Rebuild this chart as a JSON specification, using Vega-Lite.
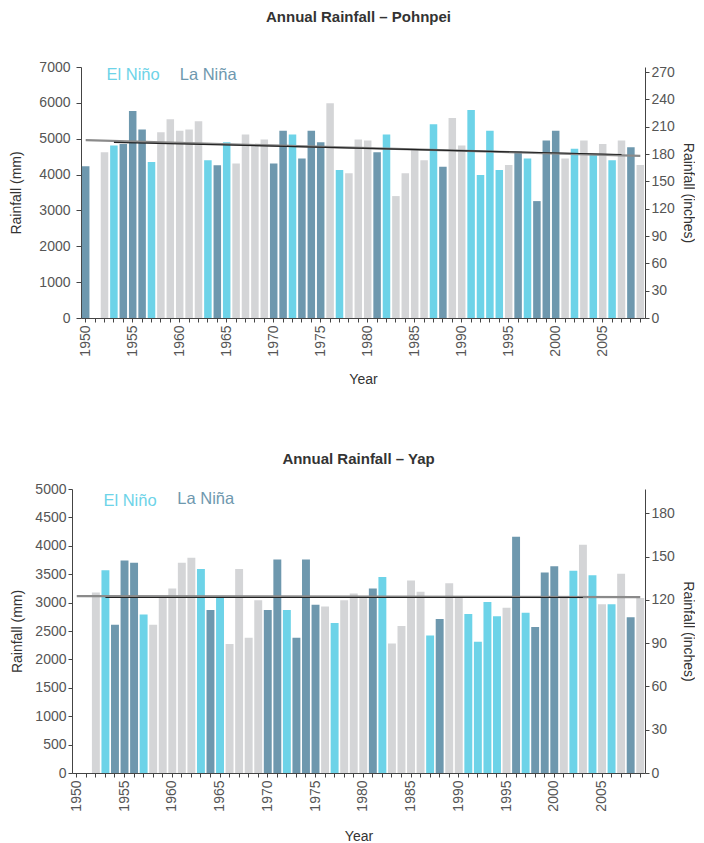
{
  "$schema": "https://vega.github.io/schema/vega-lite/v6.json",
  "padding": {"left": 9, "top": 10, "right": 0, "bottom": 0},
  "background": "white",
  "config": {
    "font": "Liberation Sans",
    "view": {"stroke": null},
    "axis": {
      "grid": false,
      "labelFont": "Liberation Sans",
      "titleFont": "Liberation Sans",
      "labelFontSize": 14,
      "titleFontSize": 14,
      "titleFontWeight": "normal",
      "labelColor": "#555555",
      "titleColor": "#333333",
      "domainColor": "#444444",
      "tickColor": "#444444"
    },
    "title": {"font": "Liberation Sans", "fontSize": 15, "fontWeight": "bold", "color": "#333333", "anchor": "middle"}
  },
  "datasets": {
    "pohnpei": [
      {"year": 1950, "rain": 4230, "phase": "La Niña"},
      {"year": 1952, "rain": 4620, "phase": "Neutral"},
      {"year": 1953, "rain": 4810, "phase": "El Niño"},
      {"year": 1954, "rain": 4850, "phase": "La Niña"},
      {"year": 1955, "rain": 5770, "phase": "La Niña"},
      {"year": 1956, "rain": 5260, "phase": "La Niña"},
      {"year": 1957, "rain": 4350, "phase": "El Niño"},
      {"year": 1958, "rain": 5180, "phase": "Neutral"},
      {"year": 1959, "rain": 5540, "phase": "Neutral"},
      {"year": 1960, "rain": 5220, "phase": "Neutral"},
      {"year": 1961, "rain": 5260, "phase": "Neutral"},
      {"year": 1962, "rain": 5490, "phase": "Neutral"},
      {"year": 1963, "rain": 4400, "phase": "El Niño"},
      {"year": 1964, "rain": 4260, "phase": "La Niña"},
      {"year": 1965, "rain": 4900, "phase": "El Niño"},
      {"year": 1966, "rain": 4310, "phase": "Neutral"},
      {"year": 1967, "rain": 5120, "phase": "Neutral"},
      {"year": 1968, "rain": 4810, "phase": "Neutral"},
      {"year": 1969, "rain": 4980, "phase": "Neutral"},
      {"year": 1970, "rain": 4310, "phase": "La Niña"},
      {"year": 1971, "rain": 5220, "phase": "La Niña"},
      {"year": 1972, "rain": 5120, "phase": "El Niño"},
      {"year": 1973, "rain": 4450, "phase": "La Niña"},
      {"year": 1974, "rain": 5220, "phase": "La Niña"},
      {"year": 1975, "rain": 4900, "phase": "La Niña"},
      {"year": 1976, "rain": 5990, "phase": "Neutral"},
      {"year": 1977, "rain": 4130, "phase": "El Niño"},
      {"year": 1978, "rain": 4040, "phase": "Neutral"},
      {"year": 1979, "rain": 4980, "phase": "Neutral"},
      {"year": 1980, "rain": 4950, "phase": "Neutral"},
      {"year": 1981, "rain": 4620, "phase": "La Niña"},
      {"year": 1982, "rain": 5120, "phase": "El Niño"},
      {"year": 1983, "rain": 3400, "phase": "Neutral"},
      {"year": 1984, "rain": 4040, "phase": "Neutral"},
      {"year": 1985, "rain": 4720, "phase": "Neutral"},
      {"year": 1986, "rain": 4400, "phase": "Neutral"},
      {"year": 1987, "rain": 5400, "phase": "El Niño"},
      {"year": 1988, "rain": 4220, "phase": "La Niña"},
      {"year": 1989, "rain": 5580, "phase": "Neutral"},
      {"year": 1990, "rain": 4810, "phase": "Neutral"},
      {"year": 1991, "rain": 5800, "phase": "El Niño"},
      {"year": 1992, "rain": 3990, "phase": "El Niño"},
      {"year": 1993, "rain": 5220, "phase": "El Niño"},
      {"year": 1994, "rain": 4130, "phase": "El Niño"},
      {"year": 1995, "rain": 4270, "phase": "Neutral"},
      {"year": 1996, "rain": 4640, "phase": "La Niña"},
      {"year": 1997, "rain": 4450, "phase": "El Niño"},
      {"year": 1998, "rain": 3260, "phase": "La Niña"},
      {"year": 1999, "rain": 4950, "phase": "La Niña"},
      {"year": 2000, "rain": 5220, "phase": "La Niña"},
      {"year": 2001, "rain": 4450, "phase": "Neutral"},
      {"year": 2002, "rain": 4720, "phase": "El Niño"},
      {"year": 2003, "rain": 4950, "phase": "Neutral"},
      {"year": 2004, "rain": 4570, "phase": "El Niño"},
      {"year": 2005, "rain": 4850, "phase": "Neutral"},
      {"year": 2006, "rain": 4400, "phase": "El Niño"},
      {"year": 2007, "rain": 4950, "phase": "Neutral"},
      {"year": 2008, "rain": 4760, "phase": "La Niña"},
      {"year": 2009, "rain": 4270, "phase": "Neutral"}
    ],
    "yap": [
      {"year": 1952, "rain": 3180, "phase": "Neutral"},
      {"year": 1953, "rain": 3570, "phase": "El Niño"},
      {"year": 1954, "rain": 2610, "phase": "La Niña"},
      {"year": 1955, "rain": 3740, "phase": "La Niña"},
      {"year": 1956, "rain": 3700, "phase": "La Niña"},
      {"year": 1957, "rain": 2790, "phase": "El Niño"},
      {"year": 1958, "rain": 2610, "phase": "Neutral"},
      {"year": 1959, "rain": 3080, "phase": "Neutral"},
      {"year": 1960, "rain": 3250, "phase": "Neutral"},
      {"year": 1961, "rain": 3700, "phase": "Neutral"},
      {"year": 1962, "rain": 3790, "phase": "Neutral"},
      {"year": 1963, "rain": 3590, "phase": "El Niño"},
      {"year": 1964, "rain": 2870, "phase": "La Niña"},
      {"year": 1965, "rain": 3090, "phase": "El Niño"},
      {"year": 1966, "rain": 2270, "phase": "Neutral"},
      {"year": 1967, "rain": 3590, "phase": "Neutral"},
      {"year": 1968, "rain": 2380, "phase": "Neutral"},
      {"year": 1969, "rain": 3040, "phase": "Neutral"},
      {"year": 1970, "rain": 2870, "phase": "La Niña"},
      {"year": 1971, "rain": 3760, "phase": "La Niña"},
      {"year": 1972, "rain": 2870, "phase": "El Niño"},
      {"year": 1973, "rain": 2380, "phase": "La Niña"},
      {"year": 1974, "rain": 3760, "phase": "La Niña"},
      {"year": 1975, "rain": 2960, "phase": "La Niña"},
      {"year": 1976, "rain": 2930, "phase": "Neutral"},
      {"year": 1977, "rain": 2640, "phase": "El Niño"},
      {"year": 1978, "rain": 3040, "phase": "Neutral"},
      {"year": 1979, "rain": 3160, "phase": "Neutral"},
      {"year": 1980, "rain": 3090, "phase": "Neutral"},
      {"year": 1981, "rain": 3250, "phase": "La Niña"},
      {"year": 1982, "rain": 3450, "phase": "El Niño"},
      {"year": 1983, "rain": 2280, "phase": "Neutral"},
      {"year": 1984, "rain": 2590, "phase": "Neutral"},
      {"year": 1985, "rain": 3390, "phase": "Neutral"},
      {"year": 1986, "rain": 3190, "phase": "Neutral"},
      {"year": 1987, "rain": 2420, "phase": "El Niño"},
      {"year": 1988, "rain": 2710, "phase": "La Niña"},
      {"year": 1989, "rain": 3340, "phase": "Neutral"},
      {"year": 1990, "rain": 3100, "phase": "Neutral"},
      {"year": 1991, "rain": 2800, "phase": "El Niño"},
      {"year": 1992, "rain": 2310, "phase": "El Niño"},
      {"year": 1993, "rain": 3010, "phase": "El Niño"},
      {"year": 1994, "rain": 2760, "phase": "El Niño"},
      {"year": 1995, "rain": 2910, "phase": "Neutral"},
      {"year": 1996, "rain": 4160, "phase": "La Niña"},
      {"year": 1997, "rain": 2820, "phase": "El Niño"},
      {"year": 1998, "rain": 2570, "phase": "La Niña"},
      {"year": 1999, "rain": 3530, "phase": "La Niña"},
      {"year": 2000, "rain": 3640, "phase": "La Niña"},
      {"year": 2001, "rain": 3080, "phase": "Neutral"},
      {"year": 2002, "rain": 3560, "phase": "El Niño"},
      {"year": 2003, "rain": 4020, "phase": "Neutral"},
      {"year": 2004, "rain": 3480, "phase": "El Niño"},
      {"year": 2005, "rain": 2970, "phase": "Neutral"},
      {"year": 2006, "rain": 2970, "phase": "El Niño"},
      {"year": 2007, "rain": 3510, "phase": "Neutral"},
      {"year": 2008, "rain": 2740, "phase": "La Niña"},
      {"year": 2009, "rain": 3080, "phase": "Neutral"}
    ],
    "pohnpei_trend_grey": [{"year": 1950, "rain": 4960}, {"year": 2009, "rain": 4520}],
    "pohnpei_trend_black": [{"year": 1953, "rain": 4900}, {"year": 2007, "rain": 4560}],
    "yap_trend_grey": [{"year": 1950, "rain": 3115}, {"year": 2009, "rain": 3095}],
    "yap_trend_black": [{"year": 1953, "rain": 3090}, {"year": 2003, "rain": 3090}]
  },
  "vconcat": [
    {
      "title": {"text": "Annual Rainfall – Pohnpei", "offset": 35},
      "width": 573,
      "height": 251,
      "layer": [
        {
          "encoding": {
            "x": {
              "field": "year", "type": "ordinal", "title": "Year",
              "scale": {"domain": [1950,1951,1952,1953,1954,1955,1956,1957,1958,1959,1960,1961,1962,1963,1964,1965,1966,1967,1968,1969,1970,1971,1972,1973,1974,1975,1976,1977,1978,1979,1980,1981,1982,1983,1984,1985,1986,1987,1988,1989,1990,1991,1992,1993,1994,1995,1996,1997,1998,1999,2000,2001,2002,2003,2004,2005,2006,2007,2008,2009], "range": [9, 573], "paddingInner": 0.2, "paddingOuter": 0.1},
              "axis": {"title": "Year", "labelAngle": 270, "labelOverlap": false, "labelExpr": "datum.value % 5 === 0 ? datum.label : ''", "tickSize": 4, "labelPadding": 3, "titlePadding": 16}
            },
            "y": {"field": "rain", "type": "quantitative", "title": "Rainfall (mm)",
              "scale": {"domain": [0, 7000], "nice": false},
              "axis": {"title": "Rainfall (mm)", "values": [0,1000,2000,3000,4000,5000,6000,7000], "format": "d", "labelOverlap": false, "offset": -9, "tickSize": 5, "labelPadding": 6, "minExtent": 45, "maxExtent": 45, "titlePadding": 13}}
          },
          "layer": [
            {
              "data": {"name": "pohnpei"},
              "mark": {"type": "bar"},
              "encoding": {
                "color": {"field": "phase", "type": "nominal", "legend": null,
                  "scale": {"domain": ["El Niño", "La Niña", "Neutral"], "range": ["#6dd3e8", "#6e98ae", "#d4d5d7"]}}
              }
            },
            {
              "data": {"name": "pohnpei_trend_grey"},
              "mark": {"type": "line", "color": "#8a8a8a", "strokeWidth": 2.2},
              "encoding": {}
            },
            {
              "data": {"name": "pohnpei_trend_black"},
              "mark": {"type": "line", "color": "#222222", "strokeWidth": 1.2},
              "encoding": {}
            }
          ]
        },
        {
          "data": {"values": [{}]},
          "mark": {"type": "rule", "opacity": 0},
          "encoding": {
            "y": {"datum": 0, "type": "quantitative", "title": "Rainfall (inches)",
              "scale": {"domain": [0, 275.59], "nice": false},
              "axis": {"title": "Rainfall (inches)", "orient": "right", "values": [0,30,60,90,120,150,180,210,240,270], "format": "d", "labelOverlap": false, "tickSize": 4, "labelPadding": 2, "titlePadding": 6}}
          }
        },
        {
          "data": {"values": [{}]},
          "mark": {"type": "text", "color": "#6dd3e8", "fontSize": 16.5, "align": "left", "baseline": "middle", "dx": 2},
          "encoding": {
            "x": {"datum": 1952, "type": "ordinal"},
            "y": {"datum": 6790, "type": "quantitative", "scale": {"domain": [0, 7000], "nice": false}, "axis": null},
            "text": {"value": "El Niño"}
          }
        },
        {
          "data": {"values": [{}]},
          "mark": {"type": "text", "color": "#6e98ae", "fontSize": 16.5, "align": "left", "baseline": "middle"},
          "encoding": {
            "x": {"datum": 1960, "type": "ordinal"},
            "y": {"datum": 6790, "type": "quantitative", "scale": {"domain": [0, 7000], "nice": false}, "axis": null},
            "text": {"value": "La Niña"}
          }
        }
      ],
      "resolve": {"scale": {"y": "independent"}, "axis": {"y": "independent"}}
    },
    {
      "title": {"text": "Annual Rainfall – Yap", "offset": 15},
      "width": 573,
      "height": 284,
      "layer": [
        {
          "encoding": {
            "x": {
              "field": "year", "type": "ordinal", "title": "Year",
              "scale": {"domain": [1950,1951,1952,1953,1954,1955,1956,1957,1958,1959,1960,1961,1962,1963,1964,1965,1966,1967,1968,1969,1970,1971,1972,1973,1974,1975,1976,1977,1978,1979,1980,1981,1982,1983,1984,1985,1986,1987,1988,1989,1990,1991,1992,1993,1994,1995,1996,1997,1998,1999,2000,2001,2002,2003,2004,2005,2006,2007,2008,2009], "paddingInner": 0.17, "paddingOuter": 0.085},
              "axis": {"title": "Year", "labelAngle": 270, "labelOverlap": false, "labelExpr": "datum.value % 5 === 0 ? datum.label : ''", "tickSize": 4, "labelPadding": 3, "titlePadding": 18}
            },
            "y": {"field": "rain", "type": "quantitative", "title": "Rainfall (mm)",
              "scale": {"domain": [0, 5000], "nice": false},
              "axis": {"title": "Rainfall (mm)", "values": [0,500,1000,1500,2000,2500,3000,3500,4000,4500,5000], "format": "d", "labelOverlap": false, "tickSize": 4, "labelPadding": 2, "minExtent": 42, "maxExtent": 42, "titlePadding": 6}}
          },
          "layer": [
            {
              "data": {"name": "yap"},
              "mark": {"type": "bar"},
              "encoding": {
                "color": {"field": "phase", "type": "nominal", "legend": null,
                  "scale": {"domain": ["El Niño", "La Niña", "Neutral"], "range": ["#6dd3e8", "#6e98ae", "#d4d5d7"]}}
              }
            },
            {
              "data": {"name": "yap_trend_grey"},
              "mark": {"type": "line", "color": "#8a8a8a", "strokeWidth": 2.2},
              "encoding": {}
            },
            {
              "data": {"name": "yap_trend_black"},
              "mark": {"type": "line", "color": "#222222", "strokeWidth": 1.2},
              "encoding": {}
            }
          ]
        },
        {
          "data": {"values": [{}]},
          "mark": {"type": "rule", "opacity": 0},
          "encoding": {
            "y": {"datum": 0, "type": "quantitative", "title": "Rainfall (inches)",
              "scale": {"domain": [0, 196.85], "nice": false},
              "axis": {"title": "Rainfall (inches)", "orient": "right", "values": [0,30,60,90,120,150,180], "format": "d", "labelOverlap": false, "tickSize": 4, "labelPadding": 2, "titlePadding": 6}}
          }
        },
        {
          "data": {"values": [{}]},
          "mark": {"type": "text", "color": "#6dd3e8", "fontSize": 16.5, "align": "left", "baseline": "middle", "dx": -2},
          "encoding": {
            "x": {"datum": 1953, "type": "ordinal"},
            "y": {"datum": 4790, "type": "quantitative", "scale": {"domain": [0, 5000], "nice": false}, "axis": null},
            "text": {"value": "El Niño"}
          }
        },
        {
          "data": {"values": [{}]},
          "mark": {"type": "text", "color": "#6e98ae", "fontSize": 16.5, "align": "left", "baseline": "middle", "dx": 5},
          "encoding": {
            "x": {"datum": 1960, "type": "ordinal"},
            "y": {"datum": 4830, "type": "quantitative", "scale": {"domain": [0, 5000], "nice": false}, "axis": null},
            "text": {"value": "La Niña"}
          }
        }
      ],
      "resolve": {"scale": {"y": "independent"}, "axis": {"y": "independent"}}
    }
  ],
  "spacing": 65
}
